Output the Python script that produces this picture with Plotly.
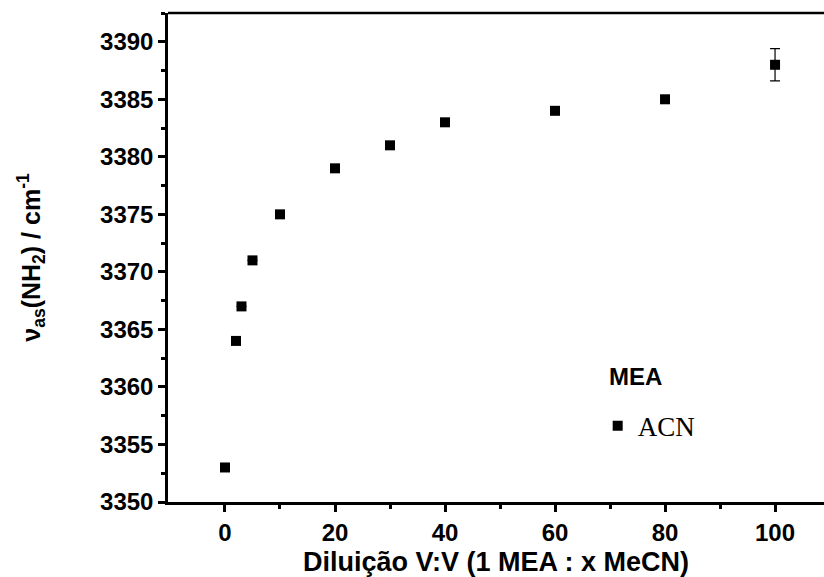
import plotly.graph_objects as go

# Diluição (1 MEA : x MeCN) vs. frequência de estiramento assimétrico NH2
dilution = [0, 2, 3, 5, 10, 20, 30, 40, 60, 80, 100]
nu_as = [3353, 3364, 3367, 3371, 3375, 3379, 3381, 3383, 3384, 3385, 3388]
err = [0, 0, 0, 0, 0, 0, 0, 0, 0, 0, 1.4]

x_ticks = [0, 20, 40, 60, 80, 100]
y_ticks = [3350, 3355, 3360, 3365, 3370, 3375, 3380, 3385, 3390]

SANS = "Liberation Sans, Arial, sans-serif"
SERIF = "Liberation Serif, Times New Roman, serif"

fig = go.Figure()
fig.add_trace(go.Scatter(
    x=dilution, y=nu_as, mode="markers", name="ACN",
    marker=dict(symbol="square", size=10, color="black"),
    error_y=dict(type="data", array=err, visible=True, color="black",
                 thickness=1.2, width=5),
))

axis_common = dict(
    showline=True, linecolor="black", linewidth=2.5,
    ticks="outside", tickcolor="black", tickwidth=2.5, ticklen=7,
    showgrid=False, zeroline=False,
    tickfont=dict(family=SANS, size=24, color="black", weight="bold"),
)

fig.update_layout(
    width=824, height=577,
    margin=dict(l=168, r=0, t=13, b=75),
    paper_bgcolor="white", plot_bgcolor="white",
    showlegend=True,
    legend=dict(
        x=0.655, y=0.155, xanchor="left", yanchor="middle",
        bgcolor="rgba(0,0,0,0)",
        font=dict(family=SERIF, size=27, color="black"),
        itemwidth=30,
    ),
    xaxis=dict(
        range=[-10.36, 108.9], tickvals=x_ticks,
        minor=dict(tickvals=[10, 30, 50, 70, 90], ticks="outside", ticklen=4,
                   tickwidth=2.5, tickcolor="black"),
        title=dict(text="Diluição V:V (1 MEA : x MeCN)", standoff=8,
                   font=dict(family=SANS, size=27, color="black", weight="bold")),
        **axis_common,
    ),
    yaxis=dict(
        range=[3350, 3392.5], tickvals=y_ticks,
        minor=dict(dtick=2.5, ticks="outside", ticklen=4,
                   tickwidth=2.5, tickcolor="black"),
        title=dict(text="ν<sub>as</sub>(NH<sub>2</sub>) / cm<sup>-1</sup>", standoff=53,
                   font=dict(family=SANS, size=25, color="black", weight="bold")),
        **axis_common,
    ),
)

# Legend heading
fig.add_annotation(text="MEA", xref="paper", yref="paper", x=0.712, y=0.256,
                   xanchor="center", yanchor="middle", showarrow=False,
                   font=dict(family=SANS, size=24, color="black", weight="bold"))

# Top frame line
fig.add_shape(type="line", xref="paper", yref="paper", x0=0, x1=1.02, y0=1, y1=1,
              line=dict(color="black", width=2.5))

fig.write_html("out.html")
